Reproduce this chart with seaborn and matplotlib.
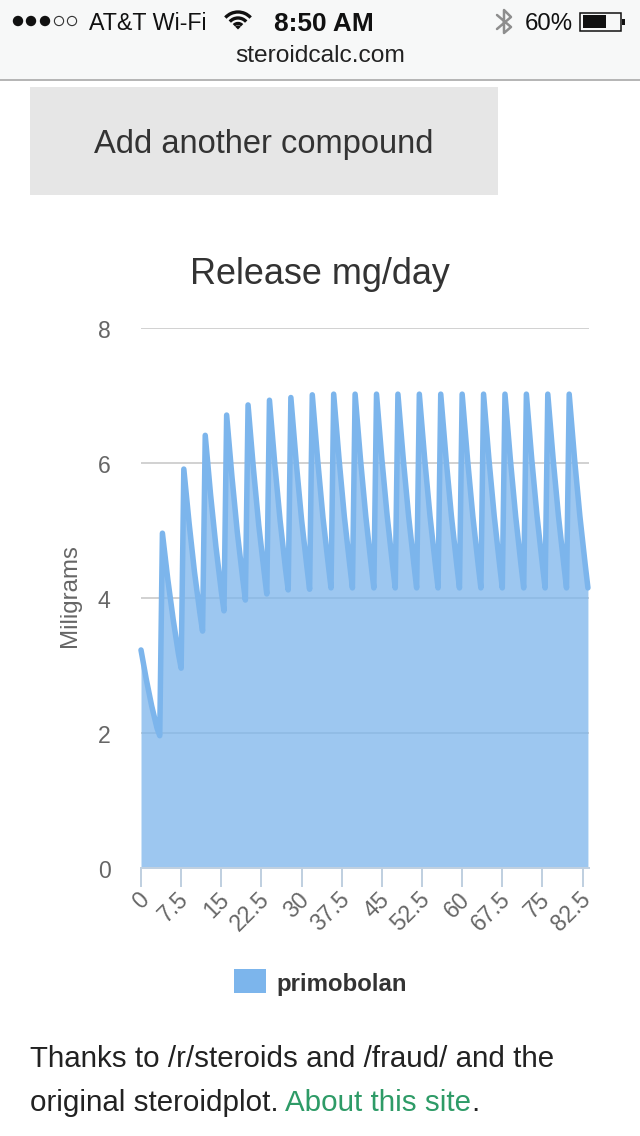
import matplotlib
matplotlib.use("Agg")
import matplotlib.pyplot as plt
from matplotlib.patches import Rectangle, Circle, Arc, Wedge
from matplotlib.transforms import ScaledTranslation
import pandas as pd
import seaborn as sns

# ---- data ----
peak_days = [0, 4, 8, 12, 16, 20, 24, 28, 32, 36, 40, 44, 48, 52, 56, 60, 64, 68, 72, 76, 80]
peaks = [3.23, 4.96, 5.91, 6.41, 6.71, 6.86, 6.93, 6.97, 7.01, 7.02, 7.02,
         7.02, 7.02, 7.02, 7.02, 7.02, 7.02, 7.02, 7.02, 7.02, 7.02]
early = [2.79, 4.28, 5.10, 5.53, 5.79, 5.92, 5.98, 6.01, 6.05, 6.06, 6.06,
         6.06, 6.06, 6.06, 6.06, 6.06, 6.06, 6.06, 6.06, 6.06, 6.06]
mids = [2.40, 3.69, 4.38, 4.76, 4.97, 5.08, 5.14, 5.16, 5.19, 5.20, 5.21,
        5.21, 5.21, 5.21, 5.21, 5.21, 5.21, 5.21, 5.21, 5.21, 5.21]
late = [2.07, 3.17, 3.78, 4.10, 4.29, 4.39, 4.43, 4.46, 4.49, 4.49, 4.49,
        4.49, 4.49, 4.49, 4.49, 4.49, 4.49, 4.49, 4.49, 4.49, 4.49]
troughs = [1.96, 2.96, 3.51, 3.81, 3.97, 4.06, 4.12, 4.13, 4.15, 4.15, 4.15,
           4.15, 4.15, 4.15, 4.15, 4.15, 4.15, 4.15, 4.15, 4.15, 4.15]
x_ticks = [0, 7.5, 15, 22.5, 30, 37.5, 45, 52.5, 60, 67.5, 75, 82.5]
x_tick_labels = ["0", "7.5", "15", "22.5", "30", "37.5", "45", "52.5", "60", "67.5", "75", "82.5"]
y_ticks = [0, 2, 4, 6, 8]
series_name = "primobolan"

rows = []
for d, p, e, m, l, t in zip(peak_days, peaks, early, mids, late, troughs):
    rows += [(d, p), (d + 1, e), (d + 2, m), (d + 3, l), (d + 3.5, t)]
df = pd.DataFrame(rows, columns=["day", "mg"])

# ---- style ----
W, H = 640, 1136
px = 0.72
SANS = ["Liberation Sans", "DejaVu Sans"]
sns.set_theme(style="white")
plt.rcParams["font.family"] = SANS
LINE = "#7CB5EC"
AXISC = "#C0D0E0"
GRID = "#D2D2D2"

fig = plt.figure(figsize=(W / 100, H / 100), dpi=100, facecolor="white")

# ---- page overlay (pixel coordinates) ----
ov = fig.add_axes([0, 0, 1, 1], zorder=0)
ov.set_xlim(0, W)
ov.set_ylim(H, 0)
ov.axis("off")
ov.add_patch(Rectangle((0, 0), W, 79, fc="#F7F8F8", ec="none"))
ov.plot([0, W], [79.5, 79.5], color="#B4B4B4", lw=1.4)
ov.add_patch(Rectangle((30, 87), 468, 108, fc="#E6E6E6", ec="none"))
ov.text(264, 145, "Add another compound", fontsize=32.7 * px, color="#333333", ha="center", va="center")
ov.text(320, 274, "Release mg/day", fontsize=36 * px, color="#333333", ha="center", va="center")

# status bar
for i, cx in enumerate([18, 31, 45, 59, 72]):
    if i < 3:
        ov.add_patch(Circle((cx, 21), 5.2, fc="#111111", ec="none"))
    else:
        ov.add_patch(Circle((cx, 21), 4.6, fc="none", ec="#333333", lw=0.8))
ov.text(89, 24, "AT&T Wi-Fi", fontsize=23.2 * px, color="#111111", va="center")
ov.text(274, 24, "8:50 AM", fontsize=26.3 * px, color="#111111", va="center", weight="bold")
ov.text(525, 24, "60%", fontsize=24 * px, color="#111111", va="center")
ov.text(320, 56, "steroidcalc.com", fontsize=24.5 * px, color="#222222", ha="center", va="center")
# wifi icon
for r in (17, 11, 5.5):
    ov.add_patch(Arc((238, 29), 2 * r, 2 * r, theta1=222, theta2=318, color="#111111", lw=2.4))
ov.add_patch(Wedge((238, 29.5), 4, 225, 315, fc="#111111", ec="none"))
# bluetooth icon
ov.plot([497, 511, 504, 504, 511, 497], [15, 27, 33, 10, 17, 29], color="#8E8E8E", lw=1.8)
# battery
ov.add_patch(Rectangle((580, 12.5), 41, 18, fc="none", ec="#111111", lw=1.1))
ov.add_patch(Rectangle((582.5, 15), 23, 13, fc="#111111", ec="none"))
ov.add_patch(Rectangle((622, 18.5), 2.5, 6, fc="#111111", ec="none"))

# legend + footer
ov.add_patch(Rectangle((234, 969), 32, 24, fc=LINE, ec="none"))
ov.text(276, 985, series_name, fontsize=24 * px, color="#333333", weight="bold", va="center")
ov.text(30, 1059, "Thanks to /r/steroids and /fraud/ and the", fontsize=29.5 * px, color="#222222", va="center")
ov.text(30, 1103, "original steroidplot.", fontsize=29.5 * px, color="#222222", va="center")
ov.text(285, 1103, "About this site", fontsize=29.5 * px, color="#2E9B67", va="center")
ov.text(471, 1103, ".", fontsize=29.5 * px, color="#222222", va="center")
ov.text(70, 596, "Miligrams", fontsize=24 * px, color="#666666", rotation=90, ha="center", va="center")

# ---- chart ----
L, R, T, B = 141, 589, 328, 868
ax = fig.add_axes([L / W, 1 - B / H, (R - L) / W, (B - T) / H], zorder=1)
ax.patch.set_alpha(0)
sns.lineplot(data=df, x="day", y="mg", ax=ax, color=LINE, lw=5.5 * px, estimator=None,
             legend=False, solid_joinstyle="round", zorder=3, clip_on=False)
ax.fill_between(df["day"], df["mg"], 0, color=LINE, alpha=0.75, lw=0, zorder=2)
ax.set_xlim(0, 83.7)
ax.set_ylim(0, 8)
ax.set_xlabel("")
ax.set_ylabel("")
ax.set_yticks(y_ticks)
ax.set_yticklabels([str(v) for v in y_ticks], fontsize=23 * px, color="#666666")
ax.set_xticks(x_ticks)
ax.set_xticklabels(x_tick_labels, fontsize=23 * px, color="#666666", rotation=45,
                   ha="right", rotation_mode="anchor")
ax.tick_params(axis="y", left=False, length=0, pad=22)
ax.tick_params(axis="x", bottom=True, length=19 * px, width=2 * px, color=AXISC, pad=2)
dx = ScaledTranslation(-4 / 100, 2 / 100, fig.dpi_scale_trans)
for lab in ax.get_xticklabels():
    lab.set_transform(lab.get_transform() + dx)
dy = ScaledTranslation(0, -1 / 100, fig.dpi_scale_trans)
for lab in ax.get_yticklabels():
    lab.set_transform(lab.get_transform() + dy)
ax.yaxis.grid(True, color=GRID, lw=2 * px, zorder=1)
ax.set_axisbelow(True)
ax.xaxis.grid(False)
for s in ("top", "left", "right"):
    ax.spines[s].set_visible(False)
ax.spines["bottom"].set_color(AXISC)
ax.spines["bottom"].set_linewidth(2 * px)

fig.savefig("out.png", dpi=100, facecolor="white")
